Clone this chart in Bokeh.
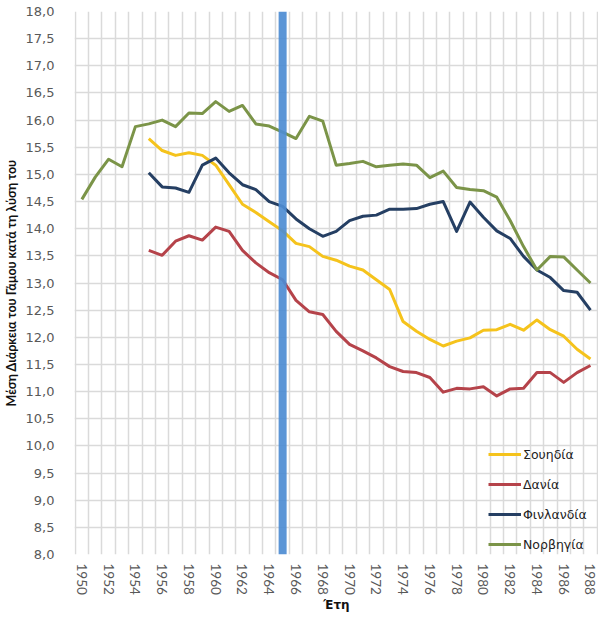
from bokeh.plotting import figure
from bokeh.models import FixedTicker, Span, Legend, LegendItem
from bokeh.embed import file_html
from bokeh.resources import INLINE

# ---- data ----
years_norway = list(range(1950, 1989))
years_other = list(range(1955, 1989))

norway = [14.54, 14.95, 15.28, 15.14, 15.88, 15.93, 16.0, 15.88, 16.13, 16.12,
          16.34, 16.16, 16.27, 15.93, 15.89, 15.78, 15.66, 16.07, 15.98, 15.17,
          15.2, 15.24, 15.14, 15.17, 15.19, 15.17, 14.94, 15.06, 14.76, 14.72,
          14.7, 14.58, 14.15, 13.67, 13.24, 13.49, 13.48, 13.24, 13.0]
sweden = [15.66, 15.44, 15.35, 15.4, 15.35, 15.17, 14.81, 14.45, 14.3, 14.13,
          13.96, 13.73, 13.67, 13.49, 13.42, 13.31, 13.24, 13.06, 12.88, 12.29,
          12.11, 11.96, 11.84, 11.93, 11.99, 12.13, 12.14, 12.24, 12.13, 12.32,
          12.14, 12.02, 11.78, 11.6]
denmark = [13.6, 13.51, 13.77, 13.87, 13.79, 14.03, 13.95, 13.6, 13.37, 13.19,
           13.06, 12.68, 12.47, 12.42, 12.11, 11.87, 11.75, 11.62, 11.46, 11.37,
           11.35, 11.26, 10.99, 11.06, 11.05, 11.09, 10.92, 11.05, 11.06, 11.35,
           11.35, 11.17, 11.35, 11.48]
finland = [15.03, 14.77, 14.75, 14.67, 15.17, 15.3, 15.03, 14.81, 14.72, 14.5,
           14.41, 14.18, 14.0, 13.86, 13.95, 14.15, 14.23, 14.25, 14.36, 14.36,
           14.37, 14.45, 14.5, 13.95, 14.49, 14.21, 13.96, 13.82, 13.49, 13.24,
           13.1, 12.86, 12.83, 12.5]

series_names = ["Σουηδία", "Δανία", "Φινλανδία", "Νορβηγία"]
marker_year = 1965

x_tick_years = list(range(1950, 1989, 2))
y_ticks = [8.0 + 0.5 * i for i in range(21)]
y_tick_labels = {t: f"{t:.1f}".replace(".", ",") for t in y_ticks}

y_title = "Μέση Διάρκεια του Γάμου κατά τη λύση του"
x_title = "Έτη"

# ---- figure ----
FONT_V = "Lato"          # vertical texts
FONT_H = "DejaVu Sans"   # horizontal texts (wider, like the reference)
p = figure(width=598, height=614, output_backend="svg", toolbar_location=None,
           x_range=(1949.45, 1988.6), y_range=(8.0, 18.0),
           min_border_left=74, min_border_top=11, min_border_bottom=54,
           min_border_right=0)
p.outline_line_color = None
p.background_fill_color = "white"
p.border_fill_color = "white"

# grids (between categories, like Excel)
p.xgrid.ticker = FixedTicker(ticks=[y + 0.5 for y in range(1949, 1989)])
p.ygrid.ticker = FixedTicker(ticks=y_ticks)
for g in (p.xgrid, p.ygrid):
    g.grid_line_color = "#dadada"
    g.grid_line_width = 1.5

# axes
p.xaxis.ticker = FixedTicker(ticks=x_tick_years)
p.xaxis.major_label_orientation = "vertical"
p.yaxis.ticker = FixedTicker(ticks=y_ticks)
p.yaxis.major_label_overrides = y_tick_labels
for ax in (p.xaxis, p.yaxis):
    ax.axis_line_color = None
    ax.major_tick_line_color = None
    ax.minor_tick_line_color = None
    ax.major_label_text_color = "#595959"
    ax.axis_label_text_font_style = "bold"
    ax.axis_label_text_color = "#111111"
p.xaxis.major_label_text_font = FONT_V
p.xaxis.major_label_text_font_size = "13.5px"
p.yaxis.major_label_text_font = FONT_H
p.yaxis.major_label_text_font_size = "13px"
p.yaxis.major_label_standoff = 14
p.xaxis.major_label_standoff = 3
p.yaxis.axis_label = y_title
p.yaxis.axis_label_text_font = FONT_V
p.yaxis.axis_label_text_font_size = "12.5px"
p.yaxis.axis_label_standoff = 4
p.xaxis.axis_label = x_title
p.xaxis.axis_label_text_font = FONT_H
p.xaxis.axis_label_text_font_size = "12px"
p.xaxis.axis_label_standoff = 0

# lines
colors = ["#f5c31c", "#b5434a", "#253f63", "#7b9448"]
r_sw = p.line(years_other, sweden, line_color=colors[0], line_width=3, line_join="round")
r_dk = p.line(years_other, denmark, line_color=colors[1], line_width=3, line_join="round")
r_fi = p.line(years_other, finland, line_color=colors[2], line_width=3, line_join="round")
r_no = p.line(years_norway, norway, line_color=colors[3], line_width=3, line_join="round")

# marker line
p.add_layout(Span(location=marker_year, dimension="height", line_color="#4d8cd2",
                  line_width=8, line_alpha=0.92))

legend = Legend(items=[LegendItem(label=series_names[0], renderers=[r_sw]),
                       LegendItem(label=series_names[1], renderers=[r_dk]),
                       LegendItem(label=series_names[2], renderers=[r_fi]),
                       LegendItem(label=series_names[3], renderers=[r_no])],
                location=(414, 0), padding=0, margin=0, spacing=10,
                glyph_width=33, glyph_height=20, label_standoff=2,
                label_text_font=FONT_H, label_text_font_size="12.5px",
                label_text_color="#222222", border_line_color=None,
                background_fill_alpha=0)
p.add_layout(legend)

open("out.html", "w").write(file_html(p, INLINE))
